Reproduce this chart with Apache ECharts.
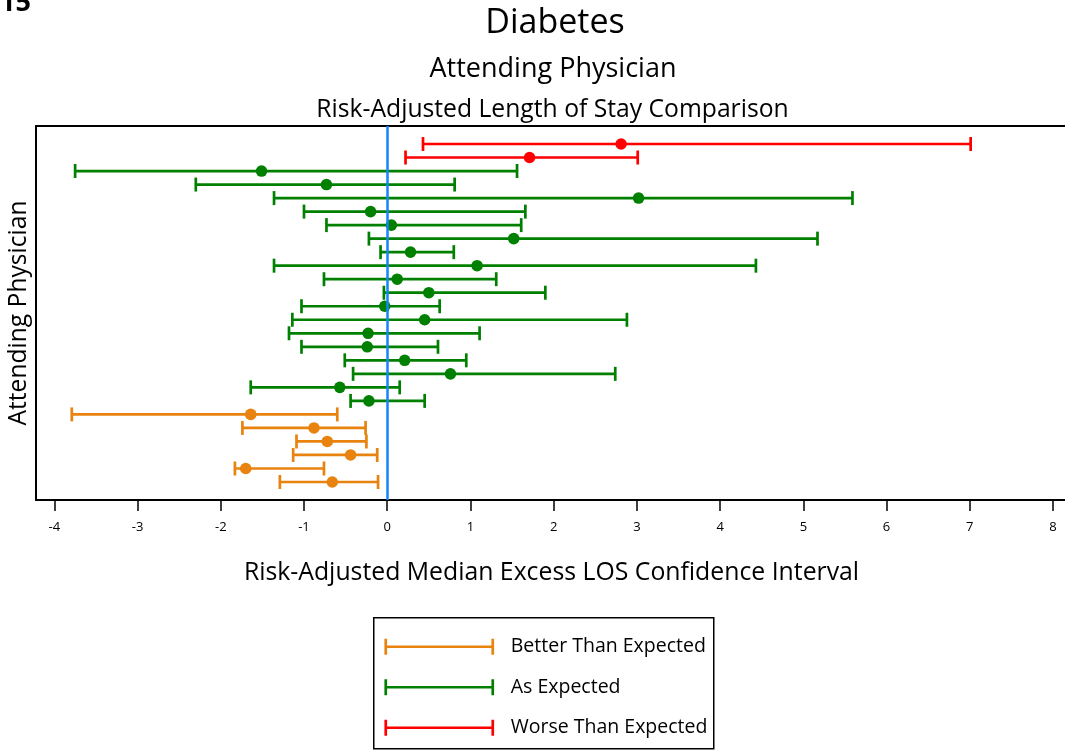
<!DOCTYPE html>
<html>
<head>
<meta charset="utf-8">
<script src="https://cdn.jsdelivr.net/npm/echarts@6/dist/echarts.min.js"></script>
<style>
html, body { margin: 0; padding: 0; background: #fff; overflow: hidden; }
#chart { width: 1065px; height: 753px; }
</style>
</head>
<body>
<div id="chart"></div>
<script>
// Group names and colours (legend order)
const groupNames = ['Better Than Expected', 'As Expected', 'Worse Than Expected'];
const groupColors = ['#E8830F', '#008000', '#FF0000'];

// Physicians, top to bottom: lower bound, median, upper bound of excess LOS
const worseLow  = [0.43, 0.22];
const worseMid  = [2.81, 1.71];
const worseHigh = [7.01, 3.01];

const asLow  = [-3.75, -2.30, -1.36, -1.00, -0.73, -0.22, -0.08, -1.36, -0.76, -0.04, -1.03, -1.14, -1.18, -1.03, -0.51, -0.41, -1.64, -0.44];
const asMid  = [-1.51, -0.73,  3.02, -0.20,  0.05,  1.52,  0.28,  1.08,  0.12,  0.50, -0.03,  0.45, -0.23, -0.24,  0.21,  0.76, -0.57, -0.22];
const asHigh = [ 1.56,  0.81,  5.59,  1.66,  1.61,  5.17,  0.80,  4.43,  1.31,  1.90,  0.63,  2.88,  1.11,  0.61,  0.95,  2.74,  0.15,  0.45];

const betterLow  = [-3.79, -1.74, -1.09, -1.13, -1.83, -1.29];
const betterMid  = [-1.64, -0.88, -0.72, -0.44, -1.70, -0.66];
const betterHigh = [-0.60, -0.26, -0.25, -0.12, -0.76, -0.11];

const xTicks = [-4, -3, -2, -1, 0, 1, 2, 3, 4, 5, 6, 7, 8];

// Build [row, low, mid, high] tuples; rows run continuously top to bottom
function rowsFrom(start, lo, mid, hi) {
  return lo.map((v, i) => [start + i, v, mid[i], hi[i]]);
}
const worseData = rowsFrom(0, worseLow, worseMid, worseHigh);
const asData = rowsFrom(worseLow.length, asLow, asMid, asHigh);
const betterData = rowsFrom(worseLow.length + asLow.length, betterLow, betterMid, betterHigh);
const rowCount = worseLow.length + asLow.length + betterLow.length;

function renderCI(params, api) {
  const row = api.value(0);
  const pL = api.coord([api.value(1), row]);
  const pM = api.coord([api.value(2), row]);
  const pH = api.coord([api.value(3), row]);
  const color = api.visual('color');
  const cap = 7;
  const st = { stroke: color, lineWidth: 2.7, fill: null };
  return {
    type: 'group',
    children: [
      { type: 'line', shape: { x1: pL[0], y1: pL[1], x2: pH[0], y2: pH[1] }, style: st },
      { type: 'line', shape: { x1: pL[0], y1: pL[1] - cap, x2: pL[0], y2: pL[1] + cap }, style: st },
      { type: 'line', shape: { x1: pH[0], y1: pH[1] - cap, x2: pH[0], y2: pH[1] + cap }, style: st },
      { type: 'circle', shape: { cx: pM[0], cy: pM[1], r: 5.8 }, style: { fill: color } }
    ]
  };
}

function ciSeries(name, color, data) {
  return {
    type: 'custom',
    name: name,
    renderItem: renderCI,
    itemStyle: { color: color },
    encode: { x: [1, 2, 3], y: 0 },
    data: data,
    z: 2,
    silent: true
  };
}

// Legend box drawn as graphics from the group names/colours
const legendLeft = 373, legendTop = 617, legendRowGap = 40.5;
const legendChildren = [{
  type: 'rect',
  shape: { x: 0, y: 0, width: 340, height: 131 },
  style: { fill: '#fff', stroke: '#000', lineWidth: 1.5 }
}];
groupNames.forEach((name, i) => {
  const y = 29 + i * legendRowGap;
  const st = { stroke: groupColors[i], lineWidth: 2.7 };
  legendChildren.push(
    { type: 'line', shape: { x1: 12, y1: y, x2: 119, y2: y }, style: st },
    { type: 'line', shape: { x1: 12, y1: y - 8, x2: 12, y2: y + 8 }, style: st },
    { type: 'line', shape: { x1: 119, y1: y - 8, x2: 119, y2: y + 8 }, style: st },
    { type: 'text', x: 137, y: y, style: { text: name, fill: '#000', font: '19.5px "Open Sans"', textVerticalAlign: 'middle' } }
  );
});

const chart = echarts.init(document.getElementById('chart'), null, { renderer: 'canvas' });
const FONT = 'Open Sans';
const X_MIN = -4.22, X_MAX = 8.3;
chart.setOption({
  animation: false,
  backgroundColor: '#fff',
  title: [
    { text: 'Diabetes', left: 550, top: 1, textAlign: 'center',
      textStyle: { fontFamily: FONT, fontSize: 34, fontWeight: 'normal', color: '#000' } },
    { text: 'Attending Physician', left: 548, top: 51, textAlign: 'center',
      textStyle: { fontFamily: FONT, fontSize: 27, fontWeight: 'normal', color: '#000' } },
    { text: 'Risk-Adjusted Length of Stay Comparison', left: 547.5, top: 92, textAlign: 'center',
      textStyle: { fontFamily: FONT, fontSize: 24.7, fontWeight: 'normal', color: '#000' } }
  ],
  grid: {
    left: 36, top: 126, width: 1042, height: 374,
    outerBoundsMode: 'none',
    containLabel: false,
    show: false
  },
  xAxis: [{
    type: 'value',
    min: X_MIN, max: X_MAX,
    interval: 1,
    name: 'Risk-Adjusted Median Excess LOS Confidence Interval',
    nameLocation: 'middle',
    nameGap: 60,
    nameTextStyle: { fontFamily: FONT, fontSize: 24.8, color: '#000', padding: [0, 11, 0, 0] },
    axisLine: { show: true, onZero: false, lineStyle: { color: '#000', width: 2 } },
    axisTick: { show: true, length: 11, lineStyle: { color: '#000', width: 1.5 },
      customValues: xTicks },
    axisLabel: { fontFamily: FONT, fontSize: 13, color: '#000', margin: 21,
      customValues: xTicks, formatter: v => String(v) },
    splitLine: { show: false }
  }, {
    // top frame line of the plot area
    type: 'value',
    position: 'top',
    min: X_MIN, max: X_MAX,
    axisLine: { show: true, onZero: false, lineStyle: { color: '#000', width: 2 } },
    axisTick: { show: false },
    axisLabel: { show: false },
    splitLine: { show: false }
  }],
  yAxis: {
    type: 'value',
    inverse: true,
    min: -1.33, max: rowCount - 1 + 1.33,
    name: 'Attending Physician',
    nameLocation: 'middle',
    nameGap: 5,
    nameTextStyle: { fontFamily: FONT, fontSize: 24.6, color: '#000' },
    axisLine: { show: true, onZero: false, lineStyle: { color: '#000', width: 2 } },
    axisTick: { show: false },
    axisLabel: { show: false },
    splitLine: { show: false }
  },
  graphic: [
    { type: 'text', left: 0, top: -10,
      style: { text: '15', fill: '#000', font: 'bold 27px "Open Sans"' } },
    { type: 'group', left: legendLeft, top: legendTop, children: legendChildren }
  ],
  series: [
    ciSeries(groupNames[2], groupColors[2], worseData),
    ciSeries(groupNames[1], groupColors[1], asData),
    ciSeries(groupNames[0], groupColors[0], betterData),
    {
      type: 'line',
      name: 'zero',
      data: [],
      z: 3,
      markLine: {
        silent: true,
        symbol: 'none',
        label: { show: false },
        lineStyle: { color: '#1485FA', width: 2.5, type: 'solid' },
        data: [{ xAxis: 0 }]
      }
    }
  ]
});
</script>
</body>
</html>
